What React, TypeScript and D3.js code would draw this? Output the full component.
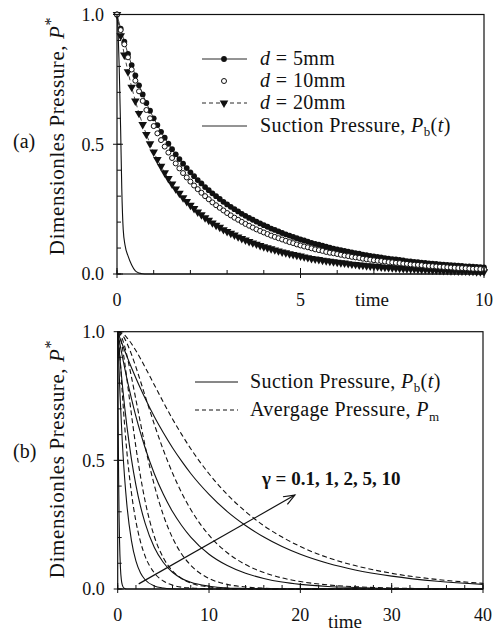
import React from 'react';
import * as d3 from 'd3';

// ---- panel (a): pressure vs time for three pipe diameters (markers every 0.1 time units)
const timeA = d3.range(0, 101).map((i) => i / 10);

const d5mm = [
  1.000, 0.945, 0.895, 0.848, 0.805, 0.765, 0.727, 0.692, 0.659, 0.629,
  0.600, 0.574, 0.548, 0.525, 0.502, 0.481, 0.461, 0.443, 0.425, 0.408,
  0.392, 0.377, 0.362, 0.349, 0.335, 0.323, 0.311, 0.300, 0.289, 0.278,
  0.268, 0.259, 0.250, 0.241, 0.232, 0.224, 0.216, 0.209, 0.202, 0.195,
  0.188, 0.182, 0.175, 0.170, 0.164, 0.158, 0.153, 0.148, 0.143, 0.138,
  0.133, 0.129, 0.125, 0.120, 0.116, 0.113, 0.109, 0.105, 0.102, 0.098,
  0.095, 0.092, 0.089, 0.086, 0.083, 0.080, 0.078, 0.075, 0.073, 0.070,
  0.068, 0.066, 0.064, 0.061, 0.059, 0.057, 0.056, 0.054, 0.052, 0.050,
  0.049, 0.047, 0.046, 0.044, 0.043, 0.041, 0.040, 0.039, 0.037, 0.036,
  0.035, 0.034, 0.033, 0.032, 0.031, 0.029, 0.029, 0.028, 0.027, 0.026,
  0.025,
];

const d10mm = [
  1.000, 0.940, 0.885, 0.835, 0.788, 0.745, 0.704, 0.667, 0.632, 0.600,
  0.570, 0.542, 0.516, 0.491, 0.468, 0.447, 0.426, 0.407, 0.389, 0.372,
  0.356, 0.341, 0.327, 0.313, 0.300, 0.288, 0.276, 0.265, 0.255, 0.245,
  0.235, 0.226, 0.217, 0.209, 0.201, 0.193, 0.186, 0.179, 0.172, 0.166,
  0.160, 0.154, 0.148, 0.143, 0.138, 0.133, 0.128, 0.123, 0.119, 0.114,
  0.110, 0.106, 0.103, 0.099, 0.095, 0.092, 0.089, 0.085, 0.082, 0.080,
  0.077, 0.074, 0.071, 0.069, 0.066, 0.064, 0.062, 0.059, 0.057, 0.055,
  0.053, 0.051, 0.050, 0.048, 0.046, 0.045, 0.043, 0.042, 0.040, 0.039,
  0.037, 0.036, 0.035, 0.034, 0.032, 0.031, 0.030, 0.029, 0.028, 0.027,
  0.026, 0.025, 0.024, 0.023, 0.023, 0.022, 0.021, 0.020, 0.020, 0.019,
  0.018,
];

const d20mm = [
  1.000, 0.918, 0.844, 0.779, 0.720, 0.667, 0.619, 0.576, 0.538, 0.502,
  0.470, 0.441, 0.415, 0.390, 0.368, 0.347, 0.328, 0.311, 0.294, 0.279,
  0.265, 0.252, 0.239, 0.228, 0.217, 0.207, 0.197, 0.188, 0.180, 0.171,
  0.164, 0.157, 0.150, 0.143, 0.137, 0.131, 0.125, 0.120, 0.115, 0.110,
  0.105, 0.101, 0.097, 0.093, 0.089, 0.085, 0.082, 0.078, 0.075, 0.072,
  0.069, 0.066, 0.063, 0.060, 0.058, 0.056, 0.053, 0.051, 0.049, 0.047,
  0.045, 0.043, 0.042, 0.040, 0.038, 0.037, 0.035, 0.034, 0.032, 0.031,
  0.030, 0.029, 0.027, 0.026, 0.025, 0.024, 0.023, 0.022, 0.021, 0.020,
  0.020, 0.019, 0.018, 0.017, 0.017, 0.016, 0.015, 0.015, 0.014, 0.013,
  0.013, 0.012, 0.012, 0.011, 0.011, 0.011, 0.010, 0.010, 0.009, 0.009,
  0.009,
];

const suctionTimeA = [0, 0.03, 0.06, 0.1, 0.13, 0.17, 0.22, 0.3, 0.4, 0.5, 0.6, 0.7, 0.8, 1, 2, 5, 10];
const suctionA = [1, 0.93, 0.8, 0.55, 0.33, 0.17, 0.11, 0.07, 0.035, 0.012, 0.004, 0.001, 0, 0, 0, 0, 0];

// ---- panel (b): suction (solid) and average (dashed) pressure for several gamma
const timeB = [0, 0.25, 0.5, 0.75, 1, 1.5, 2, 2.5, 3, 4, 5, 6, 7, 8, 10, 12, 14, 16, 18, 20, 23, 26, 30, 35, 40];

const pbTimeGamma01 = [0, 0.05, 0.1, 0.15, 0.2, 0.3, 0.4, 0.5, 0.7, 1, 40];
const pbGamma01 = [1, 0.659, 0.435, 0.287, 0.189, 0.082, 0.036, 0.016, 0.003, 0, 0];

const pbGamma1 = [1, .757, .574, .435, .329, .189, .108, .062, .036, .012, .004, .001, 0, 0, 0, 0, 0, 0, 0, 0, 0, 0, 0, 0, 0];
const pbGamma2 = [1, .893, .797, .711, .635, .506, .403, .321, .256, .162, .103, .065, .041, .026, .011, .004, .002, .001, 0, 0, 0, 0, 0, 0, 0];
const pbGamma5 = [1, .951, .905, .861, .819, .741, .670, .607, .549, .449, .368, .301, .247, .202, .135, .091, .061, .041, .027, .018, .010, .006, .002, .001, 0];
const pbGamma10 = [1, .975, .951, .928, .905, .861, .819, .779, .741, .670, .607, .549, .497, .449, .368, .301, .247, .202, .165, .135, .100, .074, .050, .030, .018];

const pmGamma01 = [1, .903, .764, .640, .535, .375, .262, .183, .128, .063, .031, .015, .007, .004, .001, 0, 0, 0, 0, 0, 0, 0, 0, 0, 0];
const pmGamma1 = [1, .983, .941, .884, .818, .680, .550, .437, .342, .205, .121, .070, .041, .023, .008, .003, .001, 0, 0, 0, 0, 0, 0, 0, 0];
const pmGamma2 = [1, .993, .973, .945, .909, .825, .735, .644, .556, .405, .287, .199, .136, .092, .041, .018, .008, .003, .001, 0, 0, 0, 0, 0, 0];
const pmGamma5 = [1, .997, .988, .974, .956, .913, .862, .807, .751, .641, .540, .451, .374, .309, .209, .141, .095, .064, .043, .029, .016, .009, .004, .001, 0];
const pmGamma10 = [1, .998, .994, .987, .977, .954, .926, .895, .862, .794, .726, .661, .601, .545, .448, .367, .301, .246, .202, .165, .122, .091, .061, .037, .022];

const gammaValues = ['0.1', '1', '2', '5', '10'];
const arrowFrom = [2.3, 0.02];
const arrowTo = [19.4, 0.365];
const gammaLabelAt = [15.8, 0.405];

const FONT = 'Liberation Serif, DejaVu Serif, Times New Roman, serif';
const INK = '#111';

type Scale = d3.ScaleLinear<number, number>;

function zip(xs: number[], ys: number[]): [number, number][] {
  return xs.map((t, i) => [t, ys[i]]);
}

function Frame(props: {
  x: Scale; y: Scale; xMajor: number[]; xMinor: number[]; yMajor: number[]; yMinor: number[];
}) {
  const { x, y } = props;
  const [x0, x1] = x.range();
  const [y0, y1] = y.range();
  return (
    <g stroke={INK} strokeWidth={1}>
      <rect x={x0} y={y1} width={x1 - x0} height={y0 - y1} fill="none" strokeWidth={1.2} />
      {props.yMinor.map((v) => (
        <line key={'ym' + v} x1={x0} x2={x0 + 4} y1={y(v)} y2={y(v)} />
      ))}
      {props.yMajor.map((v) => (
        <line key={'yM' + v} x1={x0 - 4} x2={x0 + 6} y1={y(v)} y2={y(v)} />
      ))}
      {props.xMinor.map((v) => (
        <line key={'xm' + v} x1={x(v)} x2={x(v)} y1={y0} y2={y0 - 4} />
      ))}
      {props.xMajor.map((v) => (
        <line key={'xM' + v} x1={x(v)} x2={x(v)} y1={y0 + 4} y2={y0 - 6} />
      ))}
      <g stroke="none" fill={INK} style={{ fontFamily: FONT }} fontSize={18}>
        {props.yMajor.map((v) => (
          <text key={'yl' + v} x={x0 - 13} y={y(v)} dy="0.35em" textAnchor="end">{d3.format('.1f')(v)}</text>
        ))}
        {props.xMajor.map((v) => (
          <text key={'xl' + v} x={x(v)} y={y0 + 32} textAnchor="middle">{v}</text>
        ))}
      </g>
    </g>
  );
}

function YLabel({ x, y }: { x: number; y: number }) {
  return (
    <text transform={`translate(${x},${y}) rotate(-90)`} textAnchor="middle" style={{ fontFamily: FONT }}
      fontSize={21} letterSpacing={0.6} fill={INK}>
      Dimensionles Pressure, <tspan fontStyle="italic">P</tspan>
      <tspan dy={-8} fontSize={16}>*</tspan>
    </text>
  );
}

function PanelA() {
  const x = d3.scaleLinear().domain([0, 10]).range([117, 484]);
  const y = d3.scaleLinear().domain([0, 1]).range([274, 14.5]);
  const line = d3.line<[number, number]>().x((d) => x(d[0])).y((d) => y(d[1]));
  const smooth = d3.line<[number, number]>().x((d) => x(d[0])).y((d) => y(d[1])).curve(d3.curveMonotoneX);
  const tri = d3.symbol(d3.symbolTriangle, 32)() as string;
  const p5 = zip(timeA, d5mm);
  const p10 = zip(timeA, d10mm);
  const p20 = zip(timeA, d20mm);

  const legendX0 = 202, legendX1 = 247, legendTx = 260;
  const rows = [59, 81, 103, 126];

  return (
    <g>
      <defs>
        <clipPath id="clipA"><rect x={112} y={10} width={376} height={268} /></clipPath>
      </defs>
      <g clipPath="url(#clipA)">
        <path d={smooth(zip(suctionTimeA, suctionA)) || ''} fill="none" stroke={INK} strokeWidth={1.1} />
        <path d={line(p20) || ''} fill="none" stroke={INK} strokeWidth={0.8} strokeDasharray="4 3" />
        {p20.map((d, i) => (
          <path key={'t' + i} d={tri} transform={`translate(${x(d[0])},${y(d[1])}) rotate(180)`} fill={INK} />
        ))}
        <path d={line(p5) || ''} fill="none" stroke={INK} strokeWidth={0.8} />
        {p5.map((d, i) => (
          <circle key={'f' + i} cx={x(d[0])} cy={y(d[1])} r={2.9} fill={INK} />
        ))}
        {p10.map((d, i) => (
          <circle key={'o' + i} cx={x(d[0])} cy={y(d[1])} r={2.5} fill="#fff" stroke={INK} strokeWidth={1} />
        ))}
      </g>
      <Frame x={x} y={y} xMajor={[0, 5, 10]} xMinor={d3.range(0, 11)}
        yMajor={[0, 0.5, 1]} yMinor={d3.range(0, 11).map((i) => i / 10)} />
      <text x={372} y={306} textAnchor="middle" style={{ fontFamily: FONT }} fontSize={19} fill={INK}>time</text>
      <YLabel x={64} y={136} />
      <text x={13} y={148} style={{ fontFamily: FONT }} fontSize={20} fill={INK}>(a)</text>

      {/* legend */}
      <g style={{ fontFamily: FONT }} fontSize={20} fill={INK}>
        <line x1={legendX0} x2={legendX1} y1={rows[0]} y2={rows[0]} stroke={INK} strokeWidth={0.9} />
        <circle cx={224} cy={rows[0]} r={2.9} fill={INK} />
        <circle cx={224} cy={rows[1]} r={2.5} fill="#fff" stroke={INK} strokeWidth={1} />
        <line x1={legendX0} x2={legendX1} y1={rows[2]} y2={rows[2]} stroke={INK} strokeWidth={0.9} strokeDasharray="4 3" />
        <path d={tri} transform={`translate(224,${rows[2]}) rotate(180)`} fill={INK} />
        <line x1={legendX0} x2={legendX1} y1={rows[3]} y2={rows[3]} stroke={INK} strokeWidth={0.9} />
        {['5', '10', '20'].map((v, i) => (
          <text key={v} x={legendTx} y={rows[i] + 6} letterSpacing={0.4}>
            <tspan fontStyle="italic">d</tspan> = {v}mm
          </text>
        ))}
        <text x={legendTx} y={rows[3] + 6} letterSpacing={0.4}>
          Suction Pressure, <tspan fontStyle="italic">P</tspan>
          <tspan fontSize={13} dy={4}>b</tspan>
          <tspan dy={-4}>(</tspan><tspan fontStyle="italic">t</tspan>)
        </text>
      </g>
    </g>
  );
}

function PanelB() {
  const x = d3.scaleLinear().domain([0, 40]).range([117.7, 483]);
  const y = d3.scaleLinear().domain([0, 1]).range([589, 331.7]);
  const smooth = d3.line<[number, number]>().x((d) => x(d[0])).y((d) => y(d[1])).curve(d3.curveMonotoneX);

  const solid = [zip(pbTimeGamma01, pbGamma01), zip(timeB, pbGamma1), zip(timeB, pbGamma2), zip(timeB, pbGamma5), zip(timeB, pbGamma10)];
  const dashed = [pmGamma01, pmGamma1, pmGamma2, pmGamma5, pmGamma10].map((s) => zip(timeB, s));

  const ax0 = x(arrowFrom[0]), ay0 = y(arrowFrom[1]);
  const ax1 = x(arrowTo[0]), ay1 = y(arrowTo[1]);
  const ang = Math.atan2(ay1 - ay0, ax1 - ax0);
  const head = 12, spread = 0.38;
  const h1 = [ax1 - head * Math.cos(ang - spread), ay1 - head * Math.sin(ang - spread)];
  const h2 = [ax1 - head * Math.cos(ang + spread), ay1 - head * Math.sin(ang + spread)];

  return (
    <g>
      <defs>
        <clipPath id="clipB"><rect x={116} y={328} width={369} height={263} /></clipPath>
      </defs>
      <g clipPath="url(#clipB)" fill="none" stroke={INK} strokeWidth={1.1}>
        {dashed.map((d, i) => (
          <path key={'d' + i} d={smooth(d) || ''} strokeDasharray="5 3" />
        ))}
        {solid.map((d, i) => (
          <path key={'s' + i} d={smooth(d) || ''} />
        ))}
      </g>
      <Frame x={x} y={y} xMajor={[0, 10, 20, 30, 40]} xMinor={d3.range(0, 41, 2)}
        yMajor={[0, 0.5, 1]} yMinor={d3.range(0, 11).map((i) => i / 10)} />
      <text x={345} y={628} textAnchor="middle" style={{ fontFamily: FONT }} fontSize={19} fill={INK}>time</text>
      <YLabel x={64} y={459} />
      <text x={13} y={458} style={{ fontFamily: FONT }} fontSize={20} fill={INK}>(b)</text>

      {/* arrow and gamma annotation */}
      <g stroke={INK} strokeWidth={1.2} fill="none">
        <line x1={ax0} y1={ay0} x2={ax1} y2={ay1} />
        <polyline points={`${h1[0]},${h1[1]} ${ax1},${ay1} ${h2[0]},${h2[1]}`} />
      </g>
      <text x={x(gammaLabelAt[0])} y={y(gammaLabelAt[1])} style={{ fontFamily: FONT }} fontWeight="bold"
        fontSize={19} fill={INK}>
        γ = {gammaValues.join(', ')}
      </text>

      {/* legend */}
      <g style={{ fontFamily: FONT }} fontSize={20} fill={INK}>
        <line x1={195} x2={238} y1={382} y2={382} stroke={INK} strokeWidth={1} />
        <line x1={195} x2={238} y1={410} y2={410} stroke={INK} strokeWidth={1} strokeDasharray="4 3" />
        <text x={250} y={388} letterSpacing={0.4}>
          Suction Pressure, <tspan fontStyle="italic">P</tspan>
          <tspan fontSize={13} dy={4}>b</tspan>
          <tspan dy={-4}>(</tspan><tspan fontStyle="italic">t</tspan>)
        </text>
        <text x={250} y={416} letterSpacing={0.4}>
          Avergage Pressure, <tspan fontStyle="italic">P</tspan>
          <tspan fontSize={13} dy={5}>m</tspan>
        </text>
      </g>
    </g>
  );
}

export default function App() {
  return (
    <svg width={502} height={631} style={{ position: 'absolute', left: 0, top: 0, background: '#fff' }}>
      <rect width={502} height={631} fill="#fff" />
      <PanelA />
      <PanelB />
    </svg>
  );
}
